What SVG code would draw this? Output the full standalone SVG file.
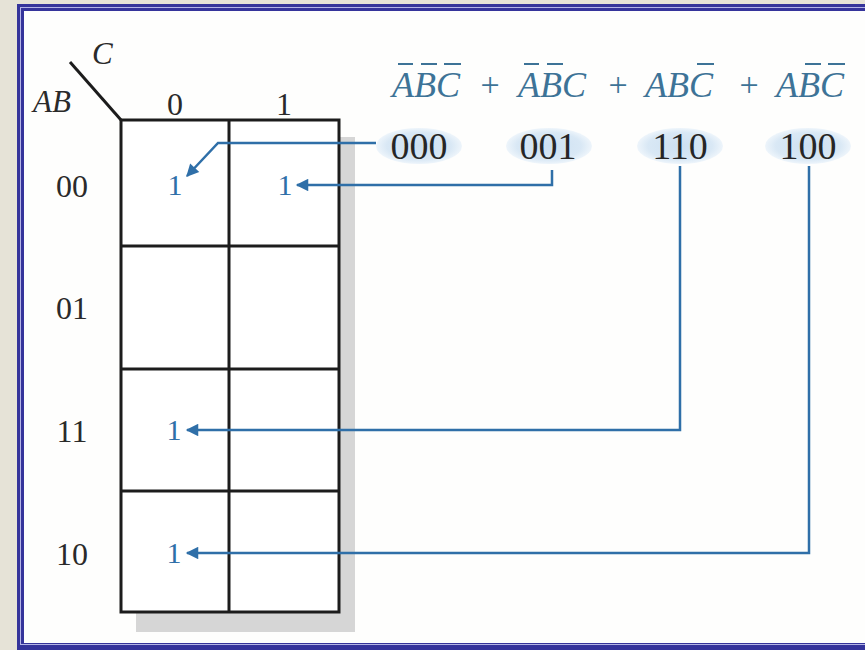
<svg xmlns="http://www.w3.org/2000/svg" width="865" height="650" viewBox="0 0 865 650">
  <defs>
    <style>
      .grid { fill: none; stroke: #1c1c1c; stroke-width: 3; }
      .lbl { font-family: "Liberation Serif", "Times New Roman", serif; font-size: 32px; fill: #2a2a2a; text-anchor: middle; }
      .var { font-family: "Liberation Serif", "Times New Roman", serif; font-style: italic; font-size: 31px; fill: #2a2a2a; }
      .expr { font-family: "Liberation Serif", "Times New Roman", serif; font-style: italic; font-size: 36px; fill: #3d7397; }
      .plus { font-family: "Liberation Serif", "Times New Roman", serif; font-size: 34px; fill: #3d7397; text-anchor: middle; }
      .bar { stroke: #3d7397; stroke-width: 2; }
      .num { font-family: "Liberation Serif", "Times New Roman", serif; font-size: 38px; fill: #262626; text-anchor: middle; }
      .one { font-family: "Liberation Serif", "Times New Roman", serif; font-size: 30px; fill: #2f6fa8; text-anchor: middle; }
      .conn { fill: none; stroke: #2f6fa8; stroke-width: 2.5; }
    </style>
    <marker id="ah" viewBox="0 0 10 10" refX="9" refY="5" markerWidth="6" markerHeight="5" orient="auto" markerUnits="strokeWidth">
      <path d="M0,0 L10,5 L0,10 Z" fill="#2f6fa8"/>
    </marker>
    <radialGradient id="glow" cx="50%" cy="50%" r="50%">
      <stop offset="0%" stop-color="#cde0f1"/>
      <stop offset="75%" stop-color="#d9e8f5"/>
      <stop offset="100%" stop-color="#eef5fb"/>
    </radialGradient>
  </defs>

  <!-- frame -->
  <g id="frame">
    <rect x="0" y="0" width="865" height="650" fill="#e6e3d7"/>
    <rect x="17" y="4" width="860" height="660" fill="#35349b"/>
    <rect x="20" y="7" width="860" height="638" fill="#b4b4e6"/>
    <rect x="21" y="8" width="860" height="636" fill="#35349b"/>
    <rect x="24" y="11" width="860" height="632" fill="#fefefd"/>
  </g>

  <!-- K-map -->
  <g id="kmap">
    <rect x="136" y="137" width="219" height="495" fill="#d6d6d6"/>
    <rect x="121" y="120" width="218" height="492" fill="#ffffff"/>
    <rect class="grid" x="121" y="120" width="218" height="492"/>
    <line class="grid" x1="229" y1="120" x2="229" y2="612"/>
    <line class="grid" x1="121" y1="246" x2="339" y2="246"/>
    <line class="grid" x1="121" y1="369" x2="339" y2="369"/>
    <line class="grid" x1="121" y1="491" x2="339" y2="491"/>
    <line class="grid" x1="70" y1="62" x2="121" y2="120"/>
  </g>

  <g id="axis-labels">
    <text class="var" x="92" y="64">C</text>
    <text class="var" x="33" y="112">AB</text>
    <text class="lbl" x="175" y="115">0</text>
    <text class="lbl" x="284" y="115">1</text>
    <text class="lbl" x="72" y="197">00</text>
    <text class="lbl" x="72" y="319">01</text>
    <text class="lbl" x="72" y="442">11</text>
    <text class="lbl" x="72" y="565">10</text>
  </g>

  <g id="cells">
    <text class="one" x="175" y="195">1</text>
    <text class="one" x="285" y="195">1</text>
    <text class="one" x="174" y="440">1</text>
    <text class="one" x="174" y="563">1</text>
  </g>

  <!-- expression -->
  <g id="expression">
    <text class="expr" x="392" y="97">ABC</text>
    <line class="bar" x1="398" y1="64" x2="413" y2="64"/>
    <line class="bar" x1="421" y1="64" x2="437" y2="64"/>
    <line class="bar" x1="444" y1="64" x2="461" y2="64"/>
    <text class="plus" x="490" y="96">+</text>
    <text class="expr" x="518" y="97">ABC</text>
    <line class="bar" x1="524" y1="64" x2="539" y2="64"/>
    <line class="bar" x1="547" y1="64" x2="563" y2="64"/>
    <text class="plus" x="618" y="96">+</text>
    <text class="expr" x="645" y="97">ABC</text>
    <line class="bar" x1="697" y1="64" x2="714" y2="64"/>
    <text class="plus" x="749" y="96">+</text>
    <text class="expr" x="776" y="97">ABC</text>
    <line class="bar" x1="805" y1="64" x2="821" y2="64"/>
    <line class="bar" x1="828" y1="64" x2="845" y2="64"/>
  </g>

  <g id="m000">
    <ellipse cx="419" cy="146" rx="43" ry="18" fill="url(#glow)"/>
    <text class="num" x="419" y="159">000</text>
  </g>
  <g id="m001">
    <ellipse cx="549" cy="146" rx="43" ry="18" fill="url(#glow)"/>
    <text class="num" x="548" y="159">001</text>
  </g>
  <g id="m110">
    <ellipse cx="680" cy="146" rx="43" ry="18" fill="url(#glow)"/>
    <text class="num" x="680" y="159">110</text>
  </g>
  <g id="m100">
    <ellipse cx="808" cy="146" rx="43" ry="18" fill="url(#glow)"/>
    <text class="num" x="808" y="159">100</text>
  </g>

  <!-- connectors -->
  <g id="connectors">
    <path class="conn" d="M376,143 L218,143 L187,176" marker-end="url(#ah)"/>
    <path class="conn" d="M552,170 L552,185 L297,185" marker-end="url(#ah)"/>
    <path class="conn" d="M680,166 L680,430 L187,430" marker-end="url(#ah)"/>
    <path class="conn" d="M809,166 L809,553 L187,553" marker-end="url(#ah)"/>
  </g>
</svg>
